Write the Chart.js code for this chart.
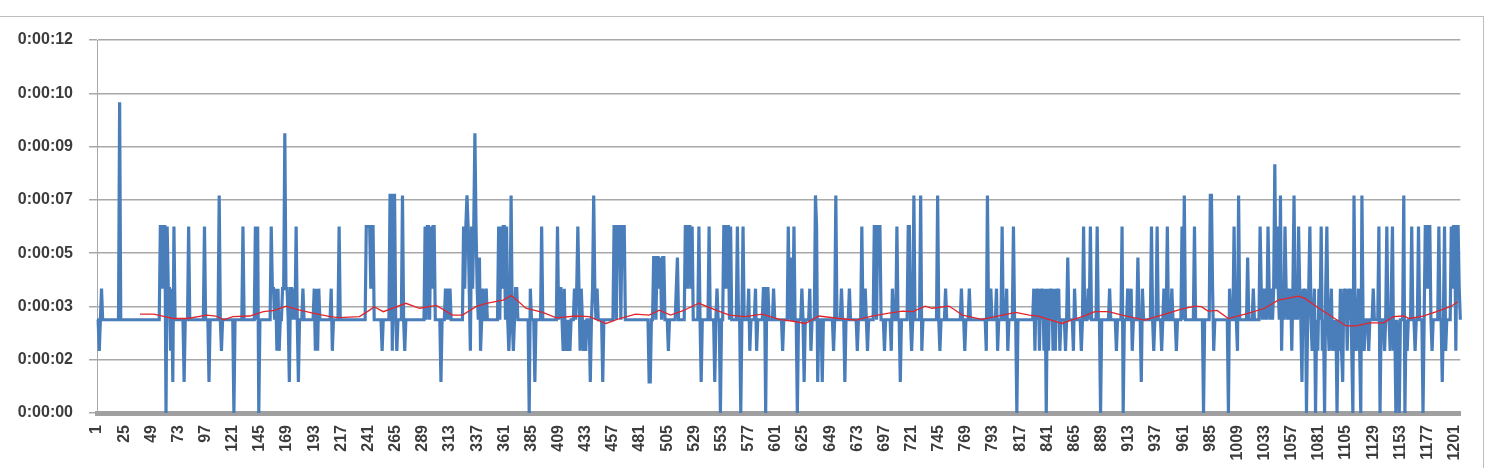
<!DOCTYPE html>
<html>
<head>
<meta charset="utf-8">
<script src="https://cdn.jsdelivr.net/npm/chart.js@4.4.1/dist/chart.umd.min.js"></script>
<style>
  body { margin: 0; background: #ffffff; }
  #frame { position: absolute; left: -2px; top: 16px; width: 1486px; height: 470px; box-sizing: border-box; border: 1px solid #bdbdbd; }
  #ticketChart { position: absolute; left: 0; top: 0; }
</style>
</head>
<body>
<div id="frame"></div>
<canvas id="ticketChart" width="1486" height="468"></canvas>
<script>
// response time per request, in seconds
const responseSeconds = [
    3,3,2,3,4,3,3,3,3,3, 3,3,3,3,3,3,3,3,3,3,
    10,3,3,3,3,3,3,3,3,3, 3,3,3,3,3,3,3,3,3,3,
    3,3,3,3,3,3,3,3,3,3, 3,3,3,3,3,3,6,6,4,6,
    6,0,6,4,4,2,4,1,6,3, 3,3,3,3,3,3,3,1,3,3,
    3,6,3,3,3,3,3,3,3,3, 3,3,3,3,3,6,3,3,3,1,
    3,3,3,3,3,3,3,3,7,3, 2,3,3,3,3,3,3,3,3,3,
    3,0,3,3,3,3,3,3,3,6, 3,3,3,3,3,3,3,3,3,3,
    6,3,6,0,3,3,3,3,3,3, 3,3,3,3,6,4,4,3,4,2,
    4,2,3,3,4,4,9,4,4,3, 1,4,4,3,4,3,6,3,1,3,
    3,3,4,3,3,3,3,3,3,3, 3,3,4,2,4,2,4,3,3,3,
    3,3,3,3,3,3,3,4,2,3, 3,3,3,3,6,3,3,3,3,3,
    3,3,3,3,3,3,3,3,3,3, 3,3,3,3,3,3,3,3,6,6,
    6,6,4,6,6,3,3,3,3,3, 3,3,2,3,3,3,3,3,3,7,
    7,2,7,7,3,2,3,3,3,3, 7,3,2,3,3,3,3,3,3,3,
    3,3,3,3,3,3,3,3,3,3, 6,3,6,6,3,6,4,6,6,3,
    3,3,3,3,1,3,3,3,4,3, 4,3,4,3,3,3,3,3,3,3,
    3,3,3,3,6,4,6,7,6,4, 2,6,4,6,9,6,4,3,5,2,
    3,4,3,3,4,3,3,3,3,3, 3,3,3,3,3,6,3,6,4,6,
    6,3,6,3,2,3,7,3,2,3, 4,4,3,3,3,3,3,3,3,3,
    3,3,0,4,3,3,3,1,3,3, 3,3,3,6,3,3,3,3,3,3,
    3,3,3,3,3,3,3,6,3,4, 4,3,2,4,2,3,2,3,2,3,
    3,3,4,3,4,6,4,2,4,3, 2,3,2,3,3,3,1,3,4,7,
    4,3,4,3,3,3,3,1,3,3, 3,3,3,3,3,3,3,6,6,3,
    6,6,6,3,6,6,6,3,3,3, 3,3,3,3,3,3,3,3,3,3,
    3,3,3,3,3,3,3,3,1,1, 3,3,5,5,3,5,5,4,5,3,
    5,5,3,3,3,2,3,3,3,3, 3,3,4,5,3,3,3,3,3,3,
    6,6,4,6,6,4,6,3,3,3, 3,3,6,3,1,3,3,3,3,3,
    3,6,3,3,3,3,1,3,4,3, 3,0,3,3,6,6,4,6,6,3,
    6,3,3,3,3,3,6,3,3,0, 3,6,3,3,3,3,4,2,3,3,
    3,3,4,2,3,3,3,3,3,4, 4,0,4,4,3,3,3,3,4,3,
    3,3,3,3,3,3,2,3,3,3, 3,6,3,5,3,3,6,3,3,0,
    3,3,3,4,3,1,3,3,3,3, 4,2,3,3,3,7,6,1,3,3,
    3,1,3,3,3,3,3,3,3,3, 3,2,3,7,3,3,3,3,4,3,
    3,1,3,3,3,4,3,3,3,3, 3,3,2,3,3,3,6,3,3,4,
    3,2,3,3,3,3,3,6,6,3, 6,6,6,3,3,3,2,3,3,3,
    3,3,2,4,3,3,3,6,3,3, 1,3,3,3,3,3,3,6,6,3,
    2,3,7,3,3,3,3,3,7,2, 3,3,3,3,3,3,3,3,3,3,
    3,3,3,7,3,2,3,3,3,3, 4,3,3,3,3,3,3,3,3,3,
    3,3,3,3,4,3,3,2,3,3, 3,4,3,3,3,3,3,3,3,3,
    3,3,3,3,3,3,2,7,3,3, 4,3,3,3,3,4,2,3,3,3,
    6,3,3,3,4,2,3,3,3,3, 6,3,3,0,3,3,3,3,3,3,
    3,3,3,3,3,3,3,3,4,2, 4,3,4,2,4,3,4,2,4,0,
    4,2,4,3,4,2,4,2,4,3, 4,2,3,3,3,3,2,3,5,3,
    3,3,3,2,4,3,3,3,3,3, 2,3,6,3,3,3,4,3,6,3,
    3,3,3,3,6,3,3,0,3,3, 3,3,3,3,3,4,3,3,3,3,
    3,2,3,3,3,3,6,0,3,3, 3,4,3,3,4,2,3,3,3,3,
    5,3,3,1,4,3,3,3,3,3, 3,3,6,3,2,3,3,6,3,3,
    3,2,3,4,3,3,6,3,3,3, 4,3,3,3,2,3,3,3,3,6,
    3,7,3,3,3,3,3,3,3,3, 6,3,3,3,3,3,3,3,0,3,
    3,3,3,3,7,7,4,2,3,3, 3,3,3,3,3,3,3,3,3,3,
    0,4,3,3,3,6,3,3,2,7, 3,3,3,3,3,3,3,5,3,3,
    3,3,4,3,3,3,3,3,6,4, 3,4,3,4,3,6,4,3,4,3,
    4,8,4,6,4,3,7,2,4,3, 6,4,3,4,3,4,2,4,7,3,
    4,3,6,4,3,1,4,3,4,0, 3,4,6,3,2,3,4,0,3,2,
    4,3,6,2,3,0,4,6,3,2, 3,4,2,3,2,3,0,3,2,4,
    2,1,4,3,4,2,4,3,4,2, 0,7,3,2,3,4,2,0,7,3,
    2,3,3,3,2,3,3,3,4,3, 3,3,3,6,0,3,3,3,2,3,
    6,3,3,2,4,6,2,3,0,3, 2,0,3,3,3,7,0,3,2,3,
    3,3,6,3,3,2,3,3,6,3, 3,3,0,3,6,6,4,6,6,3,
    2,3,3,3,3,3,6,3,3,1, 3,6,2,3,3,3,3,6,4,6,
    6,2,6,6,4,3
];

// red trend line, read at a number of positions (0-based request index)
const trendIndex = [38, 50, 60, 67, 80, 97, 105, 112, 120, 135, 147, 157, 167, 179, 191, 206, 214, 232,
    241, 245, 253, 273, 285, 300, 314, 323, 335, 344, 359, 366, 372, 379, 394, 406, 423, 435, 450, 462,
    476, 488, 497, 507, 518, 532, 547, 559, 573, 588, 603, 614, 626, 638, 656, 671, 685, 700, 712, 721,
    732, 738, 753, 765, 782, 794, 812, 824, 832, 841, 853, 861, 871, 882, 894, 906, 926, 944, 959, 971,
    976, 982, 990, 1000, 1018, 1032, 1044, 1062, 1068, 1080, 1094, 1104, 1113, 1125, 1137, 1146, 1155,
    1160, 1172, 1184, 1196, 1203];
const trendSeconds = [3.18, 3.18, 3.10, 3.04, 3.04, 3.15, 3.12, 3.00, 3.10, 3.12, 3.26, 3.30, 3.44, 3.31, 3.21, 3.10, 3.07, 3.10,
    3.31, 3.42, 3.26, 3.53, 3.37, 3.46, 3.15, 3.15, 3.42, 3.53, 3.63, 3.78, 3.60, 3.37, 3.24, 3.06, 3.12, 3.10, 2.88, 3.04,
    3.18, 3.15, 3.31, 3.15, 3.29, 3.53, 3.31, 3.15, 3.10, 3.18, 3.01, 2.96, 2.88, 3.12, 3.04, 2.99, 3.12, 3.21, 3.28, 3.26,
    3.44, 3.37, 3.44, 3.15, 3.01, 3.10, 3.24, 3.15, 3.12, 3.01, 2.88, 2.99, 3.10, 3.26, 3.26, 3.15, 2.99, 3.18, 3.35, 3.44,
    3.42, 3.28, 3.30, 3.04, 3.21, 3.37, 3.63, 3.76, 3.68, 3.37, 3.04, 2.80, 2.80, 2.90, 2.90, 3.10, 3.12,
    3.04, 3.12, 3.26, 3.42, 3.58];

const yTickLabels = ['0:00:00', '0:00:02', '0:00:03', '0:00:05', '0:00:07', '0:00:09', '0:00:10', '0:00:12'];
const yMax = 12;
const labelEvery = 24;

const categories = responseSeconds.map((v, i) => String(i + 1));
const tickFont = { family: 'Liberation Sans, Arial, sans-serif', size: 16, weight: 'bold' };
const textColor = '#3c3c3c';
const gridColor = '#a8a8a8';

const ctx = document.getElementById('ticketChart').getContext('2d');
const ticketChart = new Chart(ctx, {
    type: 'line',
    data: {
        labels: categories,
        datasets: [
            {
                label: 'Trend',
                data: trendIndex.map((c, k) => ({ x: String(c + 1), y: trendSeconds[k] })),
                borderColor: '#e0262c',
                borderWidth: 1.3,
                pointRadius: 0,
                fill: false,
            },
            {
                label: 'Response time',
                data: responseSeconds,
                borderColor: '#4a7ebb',
                borderWidth: 3.2,
                pointRadius: 0,
                borderJoinStyle: 'miter',
                fill: false,
            },
        ],
    },
    options: {
        responsive: false,
        animation: false,
        devicePixelRatio: 1,
        layout: { padding: { top: 40, right: 24, left: 0, bottom: 0 } },
        plugins: {
            legend: { display: false },
            tooltip: { enabled: false },
        },
        scales: {
            x: {
                offset: false,
                grid: { display: false, drawTicks: false },
                border: { display: true, color: '#a0a0a0', width: 5 },
                ticks: {
                    autoSkip: false,
                    minRotation: 90,
                    maxRotation: 90,
                    padding: 12,
                    font: tickFont,
                    color: textColor,
                },
                afterBuildTicks: scale => {
                    scale.ticks = scale.ticks.filter((t, i) => i % labelEvery === 0);
                },
                afterFit: scale => {
                    scale.height = 55;
                },
            },
            y: {
                min: 0,
                max: yMax,
                afterBuildTicks: scale => {
                    scale.ticks = yTickLabels.map((l, i) => ({ value: i * yMax / (yTickLabels.length - 1) }));
                },
                ticks: {
                    callback: (value, index) => yTickLabels[index],
                    padding: 16,
                    font: tickFont,
                    color: textColor,
                },
                grid: { color: gridColor, lineWidth: 1.5, tickLength: 8 },
                border: { color: gridColor, width: 1 },
                afterFit: scale => {
                    scale.width = 97;
                },
            },
        },
    },
});
</script>
</body>
</html>
